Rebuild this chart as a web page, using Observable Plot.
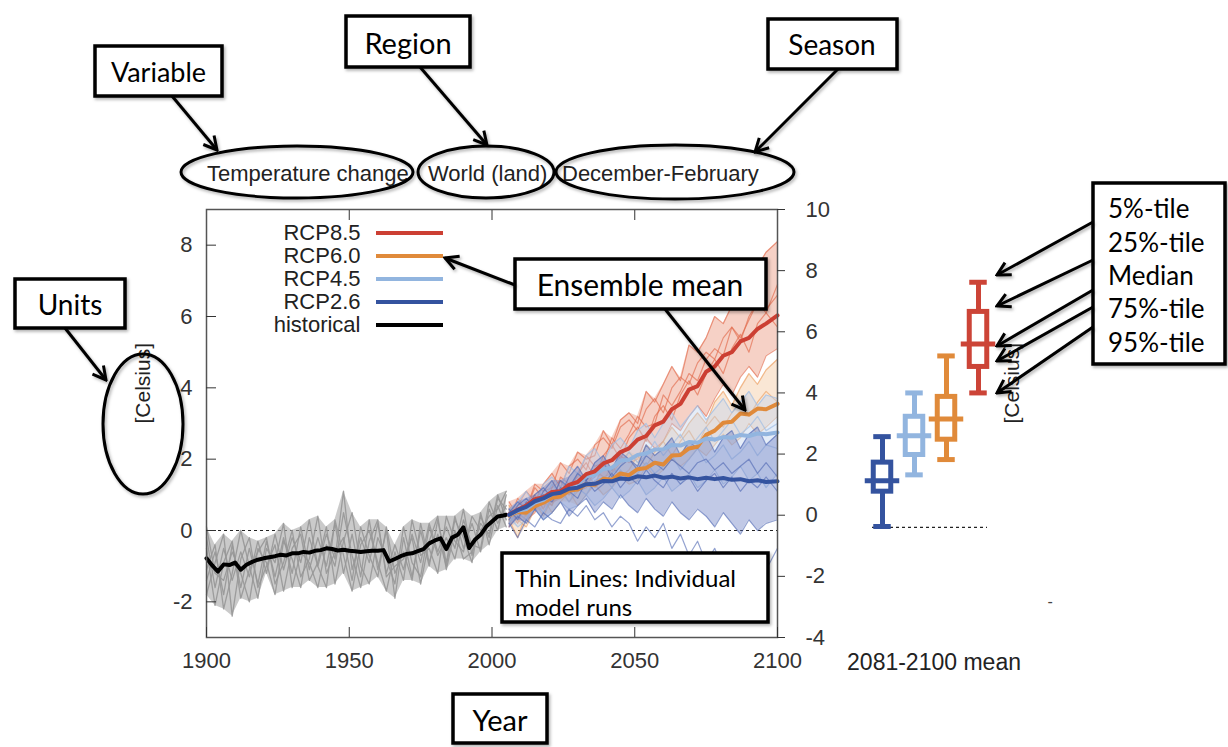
<!DOCTYPE html>
<html><head><meta charset="utf-8">
<script src="https://cdn.jsdelivr.net/npm/d3@7"></script>
<script src="https://cdn.jsdelivr.net/npm/@observablehq/plot@0.6"></script>
<style>
html,body{margin:0;padding:0;background:#fff;width:1228px;height:747px;overflow:hidden;}
#stage{position:relative;width:1228px;height:747px;}
#stage > svg{position:absolute;margin:0;}
</style></head><body><div id="stage"></div>
<script>
// ---------- DATA ----------
const histRunYears = [1900,1903,1906,1909,1912,1915,1918,1921,1924,1927,1930,1933,1936,1939,1942,1945,1948,1951,1954,1957,1960,1963,1966,1969,1972,1975,1978,1981,1984,1987,1990,1993,1996,1999,2002,2005];
const histMeanYears = [1900,1902,1904,1906,1908,1910,1912,1914,1916,1918,1920,1922,1924,1926,1928,1930,1932,1934,1936,1938,1940,1942,1944,1946,1948,1950,1952,1954,1956,1958,1960,1962,1964,1966,1968,1970,1972,1974,1976,1978,1980,1982,1984,1986,1988,1990,1992,1994,1996,1998,2000,2002,2004,2005];
const futYears = [2006,2009,2012,2015,2018,2021,2024,2027,2030,2033,2036,2039,2042,2045,2048,2051,2054,2057,2060,2063,2066,2069,2072,2075,2078,2081,2084,2087,2090,2093,2096,2100];

const histMean = [-0.78,-0.98,-1.15,-0.95,-0.97,-0.90,-1.10,-0.96,-0.88,-0.82,-0.78,-0.75,-0.72,-0.68,-0.70,-0.64,-0.64,-0.60,-0.62,-0.57,-0.55,-0.50,-0.52,-0.56,-0.54,-0.57,-0.58,-0.60,-0.58,-0.57,-0.57,-0.55,-0.87,-0.80,-0.72,-0.66,-0.64,-0.58,-0.52,-0.36,-0.28,-0.22,-0.52,-0.20,-0.12,0.09,-0.49,-0.26,-0.12,0.11,0.25,0.39,0.42,0.44];

const histRun1 = [-0.2,-1.6,-0.5,-1.4,-0.6,-1.3,-0.3,-1.2,-0.1,-1.1,-0.2,-0.9,0.3,-1.0,-0.1,-0.8,1.1,-1.1,-0.2,-0.9,0.2,-1.2,-0.4,-1.1,-0.1,-0.9,0.2,-0.6,0.1,-0.5,0.6,-0.7,0.4,-0.2,0.9,0.6];
const histRun2 = [-1.4,-0.6,-1.8,-0.4,-1.6,-0.5,-1.5,-0.3,-1.3,-0.2,-1.2,0.1,-1.1,-0.2,-1.0,0.2,-1.2,-0.1,-1.3,0.3,-1.1,0.0,-1.9,-0.2,-1.3,0.0,-1.0,0.3,-0.9,0.4,-0.5,0.2,-0.6,0.6,0.0,1.0];
const histRun3 = [-0.5,-2.1,-0.9,-0.3,-1.9,-1.1,-0.6,-0.2,-1.5,-0.9,0.0,-1.3,-0.8,0.4,-1.2,-0.6,-0.2,-1.4,0.1,-0.7,-1.3,0.1,-1.2,-0.6,-1.4,0.2,-0.9,-0.1,-1.0,0.3,-0.2,-0.9,0.5,-0.4,0.7,0.1];
const histRun4 = [-1.8,-0.9,-0.1,-2.4,-0.8,-0.2,-1.6,-1.0,-0.4,-1.7,-0.5,-0.1,-1.4,-0.9,0.1,-1.5,-0.3,0.5,-1.0,-1.5,-0.2,-0.8,-1.5,0.1,-0.9,-1.3,0.1,-0.7,-0.2,-0.8,0.3,-0.4,-0.5,0.8,0.2,0.7];
const histRun5 = [0.1,-1.2,-1.4,-0.6,-1.2,-2.0,-0.5,-0.9,-1.8,-0.3,-0.8,-1.6,-0.2,-1.0,-1.6,0.3,-0.7,-1.7,-0.4,0.0,-0.9,-1.7,-0.6,-1.4,0.3,-0.7,-0.5,-1.2,0.4,-0.3,-0.6,0.4,0.0,0.4,0.6,1.1];
const histRun6 = [-1.1,-0.4,-2.2,-1.2,0.0,-1.0,-1.9,-0.5,-0.9,0.2,-1.6,-0.6,-0.9,-1.6,-0.4,-1.0,0.5,-0.7,-1.6,-0.3,0.3,-1.3,-1.0,-0.8,-0.2,-1.5,-0.3,0.4,-1.1,0.0,-0.8,-0.6,0.2,-0.1,1.0,0.3];

const rcp85Mean = [0.45,0.58,0.70,0.88,0.93,1.08,1.10,1.28,1.36,1.58,1.66,1.88,1.97,2.20,2.30,2.55,2.65,2.95,3.05,3.40,3.55,3.95,4.05,4.45,4.60,4.90,5.00,5.30,5.40,5.65,5.80,6.03];
const rcp60Mean = [0.42,0.52,0.50,0.68,0.78,0.92,0.95,1.12,1.15,1.30,1.28,1.45,1.42,1.60,1.55,1.72,1.75,1.90,1.85,2.10,2.12,2.30,2.35,2.68,2.80,3.02,3.05,3.28,3.25,3.42,3.40,3.55];
const rcp45Mean = [0.44,0.55,0.60,0.78,0.86,1.02,1.08,1.25,1.30,1.52,1.56,1.72,1.76,1.96,1.98,2.12,2.16,2.27,2.28,2.40,2.38,2.48,2.46,2.58,2.55,2.62,2.60,2.68,2.65,2.72,2.70,2.75];
const rcp26Mean = [0.44,0.57,0.66,0.82,0.90,1.02,1.06,1.17,1.20,1.30,1.31,1.39,1.38,1.46,1.44,1.52,1.49,1.54,1.48,1.51,1.46,1.49,1.44,1.48,1.44,1.47,1.42,1.44,1.38,1.41,1.36,1.38];

const rcp85Run1 = [0.3,0.9,0.6,1.3,1.1,1.2,1.9,1.6,2.2,2.0,2.1,2.8,2.4,3.1,3.3,3.0,3.9,3.6,4.1,4.6,4.2,5.2,5.0,5.4,6.0,5.8,6.3,7.1,6.6,7.4,7.8,8.1];
const rcp85Run2 = [0.8,0.4,0.6,1.2,0.9,0.7,1.5,1.3,1.5,2.1,1.8,1.9,2.6,2.3,2.7,3.2,2.9,3.0,3.8,3.5,3.9,4.4,4.2,4.8,5.1,4.9,5.7,5.4,5.9,6.4,6.2,6.6];
const rcp85Run3 = [0.1,0.5,0.3,0.5,1.0,0.8,0.9,1.3,1.1,1.2,1.7,1.5,1.6,2.1,1.9,2.0,2.6,2.3,2.5,3.0,2.8,3.2,3.5,3.2,3.7,4.1,3.8,4.3,4.6,4.3,4.9,5.1];
const rcp85Run4 = [0.5,0.7,1.1,0.8,1.3,1.6,1.2,1.8,2.0,1.7,2.4,2.6,2.3,2.9,3.1,2.8,3.4,3.7,3.3,4.0,4.3,4.1,4.7,5.0,4.8,5.4,5.7,5.3,6.0,6.4,6.1,6.9];
const rcp85Run5 = [0.6,0.2,0.8,1.0,0.6,1.2,1.4,1.0,1.6,1.9,1.5,2.1,2.4,2.0,2.6,2.9,2.5,3.2,3.5,3.1,3.8,4.2,3.8,4.4,4.8,4.4,5.1,5.5,5.0,5.8,6.1,5.7];

const rcp60Run1 = [0.2,0.6,0.4,0.8,1.0,0.7,1.2,1.0,1.3,1.6,1.3,1.8,1.6,1.9,2.2,1.9,2.4,2.2,2.5,2.9,2.6,3.0,3.3,3.0,3.6,3.9,3.5,4.0,4.4,4.1,4.5,4.8];
const rcp60Run2 = [0.7,0.3,0.1,0.6,0.9,0.5,0.8,1.1,0.7,1.0,1.3,1.0,1.2,1.5,1.3,1.4,1.8,1.5,1.7,2.0,1.8,2.0,2.3,2.1,2.4,2.7,2.4,2.6,3.0,2.7,2.9,3.2];
const rcp60Run3 = [0.3,-0.2,0.5,0.8,0.4,0.9,1.2,0.8,1.1,1.5,1.2,1.4,1.8,1.5,1.7,2.1,1.8,2.2,2.5,2.1,2.5,2.8,2.4,2.9,3.2,2.9,3.3,3.6,3.2,3.6,3.9,3.6];

const rcp45Run1 = [0.5,0.8,1.1,0.7,1.3,1.5,1.2,1.8,1.6,2.1,2.3,1.9,2.4,2.6,2.3,2.8,3.0,2.6,3.0,3.3,2.9,3.2,3.5,3.1,3.4,3.7,3.3,3.6,3.9,3.5,3.8,3.7];
const rcp45Run2 = [0.2,0.5,0.3,0.8,0.5,0.9,1.1,0.8,1.2,1.0,1.4,1.5,1.2,1.7,1.4,1.6,1.9,1.6,1.8,2.1,1.7,2.0,2.3,1.9,2.1,2.4,2.0,2.2,2.5,2.1,2.4,2.3];
const rcp45Run3 = [0.6,0.4,0.9,0.7,0.8,1.3,1.0,1.2,1.6,1.3,1.5,1.9,1.6,1.8,2.2,1.9,2.1,2.5,2.1,2.4,2.7,2.3,2.6,2.9,2.5,2.8,3.1,2.7,2.9,3.2,2.8,3.0];
const rcp45Run4 = [0.4,0.1,0.3,0.6,0.3,0.5,0.8,0.6,0.7,1.0,0.7,0.9,1.2,0.9,1.1,1.4,1.0,1.2,1.5,1.1,1.3,1.6,1.2,1.4,1.7,1.3,1.5,1.8,1.4,1.6,1.2,1.6];

const rcp26Run1 = [0.3,0.7,0.9,0.6,1.1,1.4,1.0,1.5,1.8,1.4,1.9,2.1,1.7,2.2,2.0,1.8,2.4,2.1,2.3,2.6,2.1,2.5,2.3,2.7,2.2,2.6,2.8,2.3,2.7,2.9,2.4,2.7];
const rcp26Run2 = [0.6,0.3,0.8,0.6,1.0,0.8,1.2,1.1,0.9,1.4,1.1,1.3,1.6,1.2,1.5,1.3,1.7,1.4,1.2,1.6,1.3,1.5,1.1,1.4,1.6,1.2,1.5,1.1,1.4,1.2,1.5,1.1];
const rcp26Run3 = [0.1,0.4,0.2,0.6,0.3,0.5,0.8,0.4,0.7,0.9,0.5,0.8,0.6,1.0,0.7,0.5,0.9,0.6,0.4,0.8,0.5,0.3,0.6,0.4,0.1,0.5,0.2,-0.1,0.3,0.0,0.2,0.3];
const rcp26Run4 = [0.5,0.8,0.6,1.0,1.2,0.9,1.4,1.2,1.6,1.4,1.7,1.9,1.5,1.8,2.0,1.7,2.1,1.9,1.7,2.0,1.8,1.6,1.9,2.0,1.7,1.9,1.6,1.8,2.0,1.6,1.9,1.5];
const rcp26Run5 = [0.2,-0.2,0.3,0.1,0.5,0.3,0.2,0.6,0.4,0.7,0.3,0.5,0.1,0.4,0.2,-0.3,0.1,-0.2,0.2,-0.5,-0.1,-0.7,-0.3,-0.9,-0.5,-1.1,-0.6,-0.8,-1.3,-0.7,-1.1,-0.5];

// 2081-2100 mean box plot (right axis, Celsius)
const boxScenarios = ["RCP2.6","RCP4.5","RCP6.0","RCP8.5"];
const boxP5  = [-0.37, 1.32, 1.82, 4.00];
const boxP25 = [ 0.77, 1.97, 2.47, 4.85];
const boxP50 = [ 1.13, 2.60, 3.15, 5.60];
const boxP75 = [ 1.72, 3.22, 3.87, 6.65];
const boxP95 = [ 2.57, 4.00, 5.21, 7.62];

const legendNames = ["RCP8.5","RCP6.0","RCP4.5","RCP2.6","historical"];
const legendColors = ["#cc3f33","#e08a3a","#92b5df","#34539f","#000000"];
const leftTicks = [-2,0,2,4,6,8];
const rightTicks = [-4,-2,0,2,4,6,8,10];
const xTicks = [1900,1950,2000,2050,2100];
const topTicks = [1950,2000,2050];

// ---------- BUILD ----------
const FONT = "'Liberation Sans', Arial, Helvetica, sans-serif";
const toRows = (runs, years) => runs.flatMap((vals, r) => vals.map((v, i) => ({run: r, year: years[i], value: v})));
const envelope = (runs, years) => years.map((yr, i) => ({year: yr, lo: d3.min(runs, r => r[i]), hi: d3.max(runs, r => r[i])}));
const series = (vals, years) => vals.map((v, i) => ({year: years[i], value: v}));

const histRuns = [histRun1,histRun2,histRun3,histRun4,histRun5,histRun6];
const r85 = [rcp85Run1,rcp85Run2,rcp85Run3,rcp85Run4,rcp85Run5];
const r60 = [rcp60Run1,rcp60Run2,rcp60Run3];
const r45 = [rcp45Run1,rcp45Run2,rcp45Run3,rcp45Run4];
const r26core = [rcp26Run1,rcp26Run2,rcp26Run3,rcp26Run4];
const r26 = [...r26core, rcp26Run5];

const thin = (runs, envRuns, color, areaColor, aop, op) => [
  Plot.areaY(envelope(envRuns, futYears), {x: "year", y1: "lo", y2: "hi", fill: areaColor, fillOpacity: aop}),
  Plot.line(toRows(runs, futYears), {x: "year", y: "value", z: "run", stroke: color, strokeWidth: 1.2, strokeOpacity: op})
];

const stage = document.getElementById("stage");
const baseStyle = (l, t) => ({background: "transparent", position: "absolute", left: l + "px", top: t + "px", maxWidth: "none", overflow: "visible", fontFamily: FONT, fontSize: "22px", color: "#222"});

const main = Plot.plot({
  width: 1228, height: 747,
  marginLeft: 206, marginRight: 451, marginTop: 209, marginBottom: 110,
  x: {domain: [1900, 2100], axis: null},
  y: {domain: [-3, 9], axis: null},
  style: baseStyle(0, 0),
  marks: [
    Plot.ruleY([0], {stroke: "#222", strokeWidth: 1, strokeDasharray: "3,3"}),
    Plot.areaY(envelope(histRuns, histRunYears), {x: "year", y1: "lo", y2: "hi", fill: "#a6a6a6", fillOpacity: 0.6}),
    Plot.line(toRows(histRuns, histRunYears), {x: "year", y: "value", z: "run", stroke: "#979797", strokeWidth: 1.3, strokeOpacity: 0.9}),
    ...thin(r85, r85, "#e26a4b", "#ec9a80", 0.45, 0.65),
    ...thin(r60, r60, "#eb9a58", "#f2bb88", 0.35, 0.6),
    ...thin(r45, r45, "#9fbde4", "#bdd2ee", 0.4, 0.7),
    ...thin(r26, r26core, "#4d65b2", "#7688c8", 0.45, 0.6),
    Plot.line(series(histMean, histMeanYears), {x: "year", y: "value", stroke: "#000", strokeWidth: 4}),
    Plot.line(series(rcp60Mean, futYears), {x: "year", y: "value", stroke: "#e08a3a", strokeWidth: 4}),
    Plot.line(series(rcp45Mean, futYears), {x: "year", y: "value", stroke: "#92b5df", strokeWidth: 4}),
    Plot.line(series(rcp85Mean, futYears), {x: "year", y: "value", stroke: "#cc3f33", strokeWidth: 4}),
    Plot.line(series(rcp26Mean, futYears), {x: "year", y: "value", stroke: "#34539f", strokeWidth: 4}),
    Plot.frame({stroke: "#555", strokeWidth: 1.5}),
    Plot.axisY({anchor: "left", ticks: leftTicks, tickSize: -10, tickPadding: 24, tickFormat: d => String(d), label: null, color: "#333", fontSize: 22}),
    Plot.axisX({anchor: "bottom", ticks: xTicks, tickSize: -10, tickPadding: 25, tickFormat: d => String(d), label: null, color: "#333", fontSize: 22}),
    Plot.axisX({anchor: "top", ticks: topTicks, tickSize: -10, tickFormat: () => "", label: null, color: "#333"}),
    Plot.text(["[Celsius]"], {frameAnchor: "left", dx: -63, rotate: -90, fontSize: 21, fill: "#222"})
  ]
});
stage.appendChild(main);

const boxes = boxScenarios.map((s, i) => ({scenario: s, p5: boxP5[i], p25: boxP25[i], p50: boxP50[i], p75: boxP75[i], p95: boxP95[i]}));
const boxColor = {"RCP2.6": "#34539f", "RCP4.5": "#92b5df", "RCP6.0": "#e08a3a", "RCP8.5": "#cc4437"};
const sw = 5;
const boxPanel = Plot.plot({
  width: 1228, height: 747,
  marginLeft: 777, marginRight: 138, marginTop: 209, marginBottom: 110,
  x: {type: "band", domain: boxScenarios, range: [865, 995], padding: 0, axis: null},
  y: {domain: [-4, 10], axis: null},
  style: baseStyle(0, 0),
  marks: [
    Plot.ruleY([-0.4], {stroke: "#222", strokeWidth: 1.2, strokeDasharray: "3,3", insetLeft: 95, insetRight: 103}),
    Plot.ruleX(boxes, {x: "scenario", y1: "p5", y2: "p25", stroke: d => boxColor[d.scenario], strokeWidth: sw}),
    Plot.ruleX(boxes, {x: "scenario", y1: "p75", y2: "p95", stroke: d => boxColor[d.scenario], strokeWidth: sw}),
    Plot.barY(boxes, {x: "scenario", y1: "p25", y2: "p75", fill: "white", stroke: d => boxColor[d.scenario], strokeWidth: sw, insetLeft: 7.25, insetRight: 7.25}),
    Plot.tickY(boxes, {x: "scenario", y: "p50", stroke: d => boxColor[d.scenario], strokeWidth: sw, insetLeft: -1.25, insetRight: -1.25}),
    Plot.tickY(boxes, {x: "scenario", y: "p5", stroke: d => boxColor[d.scenario], strokeWidth: sw, insetLeft: 7.25, insetRight: 7.25}),
    Plot.tickY(boxes, {x: "scenario", y: "p95", stroke: d => boxColor[d.scenario], strokeWidth: sw, insetLeft: 7.25, insetRight: 7.25}),
    Plot.axisY({anchor: "left", ticks: rightTicks, tickSize: -8, tickPadding: -20, textAnchor: "start", tickFormat: d => String(d), label: null, color: "#333", fontSize: 22}),
    Plot.text(["[Celsius]"], {frameAnchor: "left", dx: 235, rotate: -90, fontSize: 21, fill: "#222"}),
    Plot.text(["2081-2100 mean"], {frameAnchor: "bottom", dy: 25, lineAnchor: "middle", fontSize: 23, fill: "#222"}),
    Plot.text([{y: -2.85}], {y: "y", text: () => "-", frameAnchor: "left", dx: 270, fontSize: 16, fill: "#444"})
  ]
});
stage.appendChild(boxPanel);

const legendItems = legendNames.map((n, i) => ({name: n, color: legendColors[i]}));
const legend = Plot.plot({
  width: 260, height: 117, margin: 0,
  x: {axis: null}, y: {type: "band", domain: legendNames, padding: 0, axis: null},
  style: baseStyle(200, 220),
  marks: [
    Plot.text(legendItems, {y: "name", text: "name", frameAnchor: "left", dx: 160, textAnchor: "end", fontSize: 22, fill: "#222"}),
    Plot.ruleY(legendItems, {y: "name", stroke: "color", strokeWidth: 4, insetLeft: 176, insetRight: 17})
  ]
});
stage.appendChild(legend);

// ---------- ANNOTATIONS ----------
const ANN = "Lato, 'Open Sans', sans-serif";
const rect = (x, y, w, h) => `<rect x="${x}" y="${y}" width="${w}" height="${h}" fill="#fff" stroke="#000" stroke-width="3.5" filter="url(#sh)"/>`;
const arrow = (x1, y1, x2, y2) => `<line x1="${x1}" y1="${y1}" x2="${x2}" y2="${y2}" stroke="#000" stroke-width="3" marker-end="url(#ah)" filter="url(#sh)"/>`;
const label = (x, y, s, t, anchor = "middle") => `<text x="${x}" y="${y}" font-size="${s}" text-anchor="${anchor}" dominant-baseline="central" font-family="${ANN}" fill="#000">${t}</text>`;
const ell = (cx, cy, rx, ry) => `<ellipse cx="${cx}" cy="${cy}" rx="${rx}" ry="${ry}" fill="none" stroke="#000" stroke-width="3" filter="url(#sh)"/>`;
const title = (x, t) => `<text x="${x}" y="173" font-size="22" dominant-baseline="central" font-family="${FONT}" fill="#222">${t}</text>`;

const ann = `<svg width="1228" height="747" style="left:0;top:0" xmlns="http://www.w3.org/2000/svg">
<defs>
<filter id="sh" x="-20%" y="-20%" width="140%" height="140%"><feDropShadow dx="1.5" dy="2" stdDeviation="1.5" flood-color="#000" flood-opacity="0.3"/></filter>
<marker id="ah" markerUnits="userSpaceOnUse" markerWidth="18" markerHeight="18" viewBox="0 0 18 18" refX="16" refY="9" orient="auto"><path d="M3,2 L16,9 L3,16" fill="none" stroke="#000" stroke-width="3"/></marker>
</defs>
${title(207, "Temperature change")}${title(428, "World (land)")}${title(562, "December-February")}
${ell(297,172,116,26)}${ell(486,172,68,26)}${ell(675,172,119,27)}
${ell(143,424,40,70)}
${rect(95,46,127,50)}${label(158.5,71,27,"Variable")}
${arrow(172,96,217,150)}
${rect(346,16,124,51)}${label(408,42,29,"Region")}
${arrow(420,67,487,145)}
${rect(768,19,129,50)}${label(832,44,28,"Season")}
${arrow(838,69,755,152)}
${rect(15,279,110,49)}${label(70,304,28,"Units")}
${arrow(65,328,106,380)}
${rect(515,259,251,50)}${label(640,284,30,"Ensemble mean")}
${arrow(515,285,445,258)}
${arrow(665,309,745,410)}
${rect(502,553,266,69)}${label(515,577,24,"Thin Lines: Individual","start")}${label(515,606,24,"model runs","start")}
${rect(1093,183,132,181)}
${label(1108,208,26,"5%-tile","start")}${label(1108,242,26,"25%-tile","start")}${label(1108,275,26,"Median","start")}${label(1108,308,26,"75%-tile","start")}${label(1108,342,26,"95%-tile","start")}
${arrow(1093,222,997,275)}${arrow(1093,260,997,306)}${arrow(1093,290,997,346)}${arrow(1093,307,997,361)}${arrow(1093,327,997,393)}
${rect(453,694,94,49)}${label(500,719,29,"Year")}
</svg>`;
stage.insertAdjacentHTML("beforeend", ann);
</script></body></html>
